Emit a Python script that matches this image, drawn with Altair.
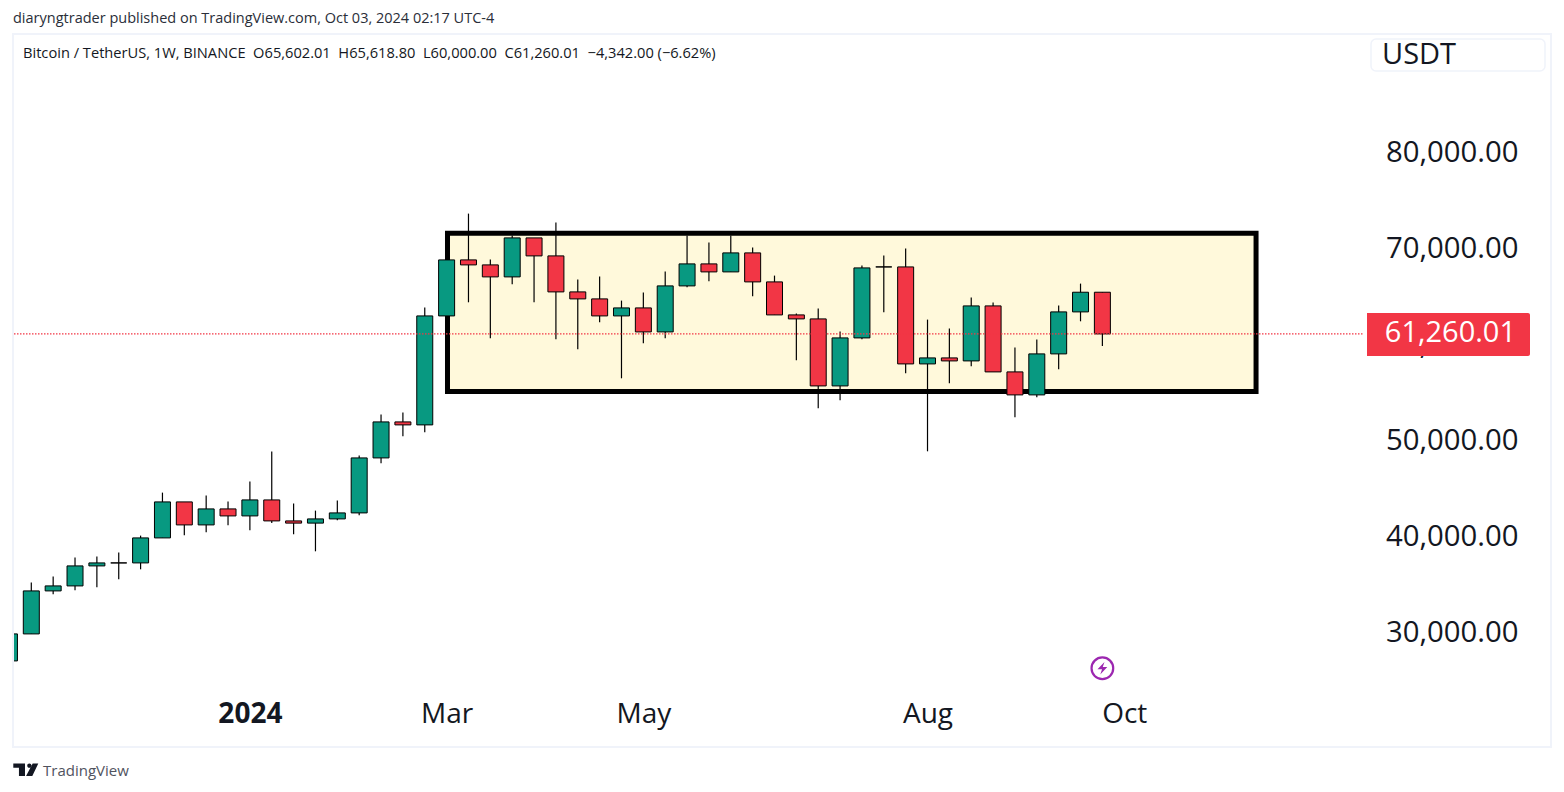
import altair as alt
import pandas as pd

opens = [27196,30009,34488,35009,37093,37405,37405,40009,43759,41364,43030,42301,43968,41780,41551,41989,42614,48343,52093,51781,
         63135,68969,68448,67198,71260,69385,65635,64906,63135,63968,61468,66260,68552,67719,69698,66677,63239,62823,55843,60843,
         68239,68239,58135,58760,58447,64177,57302,54906,59177,63552,65602]
highs = [30009,35353,35978,37957,38061,38478,40249,44728,43759,44416,43791,45874,48999,43582,42853,43895,48583,52853,53062,64000,
         68969,73792,69000,71500,71260,72854,66916,67229,64729,65562,67750,71500,70771,71500,70250,67333,63375,63896,61500,68375,
         69417,70146,62750,61812,65041,64521,59833,60666,64208,66500,65619]
lows = [27196,30009,34134,34551,34863,35697,36738,40009,40280,40593,41322,40801,41551,40384,38614,41843,42364,47780,50593,51010,
        63135,64552,60802,66427,64552,60697,59656,62468,56635,60281,60802,66114,66739,67719,65177,63239,58510,53510,54343,60697,
        63510,57156,49030,56114,57885,57302,52572,54656,57572,62573,60000]
closes = [30009,34488,35009,37093,37405,37405,40009,43759,41364,43030,42301,43968,41780,41551,41989,42614,48343,52093,51781,63135,
          68969,68448,67198,71260,69385,65635,64906,63135,63968,61468,66260,68552,67719,69698,66677,63239,62823,55843,60843,68135,
          68239,58135,58760,58447,64177,57302,54906,59177,63552,65602,61260]

time_ticks = [11, 20, 29, 42, 51]
time_labels = ["2024", "Mar", "May", "Aug", "Oct"]
price_ticks = [30000, 40000, 50000, 60000, 70000, 80000]

box_x = [20.04]; box_x2 = [57.03]; box_y = [71740]; box_y2 = [55260]
last_price = 61260.01
last_label = "61,260.01"

header = "diaryngtrader published on TradingView.com, Oct 03, 2024 02:17 UTC-4"
legend = "Bitcoin / TetherUS, 1W, BINANCE\u00a0\u00a0O65,602.01\u00a0\u00a0H65,618.80\u00a0\u00a0L60,000.00\u00a0\u00a0C61,260.01\u00a0\u00a0\u22124,342.00 (\u22126.62%)"

GREEN = "#089981"; RED = "#f23645"; TEXT = "#131722"; BORDER = "#f0f3fa"
FONT = "Open Sans"
W, H = 1352, 655
X0, Y0 = 14, 35

df = pd.DataFrame({"i": list(range(len(opens))), "o": opens, "h": highs, "l": lows, "c": closes})
df["up"] = df["c"] >= df["o"]

xs = alt.Scale(domain=[0.2085, 62.06], range=[0, W], nice=False, zero=False, padding=0)
ys = alt.Scale(domain=[24167, 92396], range=[H, 0], nice=False, zero=False, padding=0)

x_expr = "{" + ",".join(f"'{t}':'{l}'" for t, l in zip(time_ticks, time_labels)) + "}[datum.value]"
x_axis = alt.Axis(values=time_ticks, labelExpr=x_expr, domain=False, ticks=False, grid=False, title=None,
                  labelFontSize=28, labelColor=TEXT, labelFont=FONT, labelPadding=24, labelBaseline="middle",
                  labelOverlap=False, labelFlush=False,
                  labelFontWeight={"condition": {"test": "datum.value == 11", "value": "bold"}, "value": "normal"})
y_axis = alt.Axis(orient="right", values=price_ticks, format=",.2f", domain=False, ticks=False, grid=False, title=None,
                  labelFontSize=29.3, labelColor=TEXT, labelFont=FONT, labelAlign="right", labelPadding=152,
                  labelOffset=-2, labelOverlap=False, labelFlush=False)

def px(p):
    return p - X0
def py(p):
    return p - Y0

def note(text, x, y, size, color=TEXT, align="left", weight="normal"):
    return alt.Chart(pd.DataFrame({"t": [text]})).mark_text(
        align=align, baseline="middle", fontSize=size, color=color, font=FONT, fontWeight=weight
    ).encode(x=alt.value(px(x)), y=alt.value(py(y)), text="t:N")

one = pd.DataFrame({"a": [0]})

border = alt.Chart(one).mark_rect(filled=False, stroke=BORDER, strokeWidth=2).encode(
    x=alt.value(px(13)), x2=alt.value(px(1551)), y=alt.value(py(34)), y2=alt.value(py(747)))

box = alt.Chart(pd.DataFrame({"x": box_x, "x2": box_x2, "y": box_y, "y2": box_y2})).mark_rect(
    fill="#fff9db", stroke="black", strokeWidth=5, strokeJoin="miter").encode(
    x=alt.X("x:Q", scale=xs, axis=x_axis), x2="x2:Q",
    y=alt.Y("y:Q", scale=ys, axis=y_axis), y2="y2:Q")

wick = alt.Chart(df).mark_rule(color="black", strokeWidth=1.2, clip=True).encode(
    x=alt.X("i:Q", scale=xs), y=alt.Y("h:Q", scale=ys), y2="l:Q")

body = alt.Chart(df).mark_bar(size=16, stroke="black", strokeWidth=1, clip=True, orient="vertical").encode(
    x=alt.X("i:Q", scale=xs), y=alt.Y("o:Q", scale=ys), y2="c:Q",
    color=alt.condition("datum.up", alt.value(GREEN), alt.value(RED)))

pline = alt.Chart(pd.DataFrame({"p": [last_price]})).mark_rule(color=RED, strokeWidth=1.2, strokeDash=[1.5, 1.5]).encode(
    x=alt.value(0), x2=alt.value(W - 2), y=alt.Y("p:Q", scale=ys))

tag = alt.Chart(one).mark_rect(fill=RED, cornerRadiusTopRight=2, cornerRadiusBottomRight=2).encode(
    x=alt.value(px(1367)), x2=alt.value(px(1530)), y=alt.value(py(313)), y2=alt.value(py(356)))
tag_text = alt.Chart(pd.DataFrame({"p": [last_price], "t": [last_label]})).mark_text(
    align="right", baseline="middle", fontSize=29, color="white", font=FONT, fontWeight=500, dy=-1
).encode(x=alt.value(px(1516)), y=alt.Y("p:Q", scale=ys), text="t:N")

usdt_box = alt.Chart(one).mark_rect(fill="white", stroke=BORDER, strokeWidth=1.5, cornerRadius=5).encode(
    x=alt.value(px(1371)), x2=alt.value(px(1545)), y=alt.value(py(39)), y2=alt.value(py(71)))

bolt_x = alt.X("i:Q", scale=xs)
last_bar = pd.DataFrame({"i": [len(opens) - 1]})
ring = alt.Chart(last_bar).mark_point(shape="circle", size=470, filled=False, stroke="#9c27b0", strokeWidth=2.2, opacity=1).encode(
    x=bolt_x, y=alt.value(py(668.3)))
bolt = alt.Chart(last_bar).mark_point(
    shape="M0.3,-0.9L-0.7,0.15L-0.05,0.15L-0.3,0.9L0.7,-0.2L0.05,-0.2Z",
    size=196, filled=True, fill="#9c27b0", opacity=1, strokeWidth=0).encode(
    x=bolt_x, y=alt.value(py(668.3)))

logo = alt.Chart(one).mark_point(
    shape=("M-1,-0.53L-0.064,-0.53L-0.064,0.48L-0.548,0.48L-0.548,-0.187L-1,-0.187Z"
           "M0.55,-0.53L1,-0.53L0.52,0.48L0.02,0.48Z"
           "M0.113,-0.347a0.17,0.17 0 1,0 0.34,0a0.17,0.17 0 1,0 -0.34,0Z"),
    size=625, filled=True, fill=TEXT, opacity=1, strokeWidth=0).encode(
    x=alt.value(px(25.8)), y=alt.value(py(770)))

chart = alt.layer(
    border, box, wick, body, pline, tag, tag_text, usdt_box,
    note("USDT", 1382, 55, 29),
    ring, bolt, logo,
    note("TradingView", 43, 771, 15, color="#50535e"),
    note(header, 13, 19, 14.5, color="#2a2e39"),
    note(legend, 23, 54, 14.65),
).resolve_scale(x="shared", y="shared").properties(
    width=W, height=H,
    padding={"left": X0 - 8, "top": Y0 - 8, "right": 1548 - W - (X0 - 8), "bottom": 776 - H - (Y0 - 8)},
    autosize=alt.AutoSizeParams(type="none"),
).configure_view(stroke=None)

chart.save("out.html", embed_options={"renderer": "svg", "actions": False})
